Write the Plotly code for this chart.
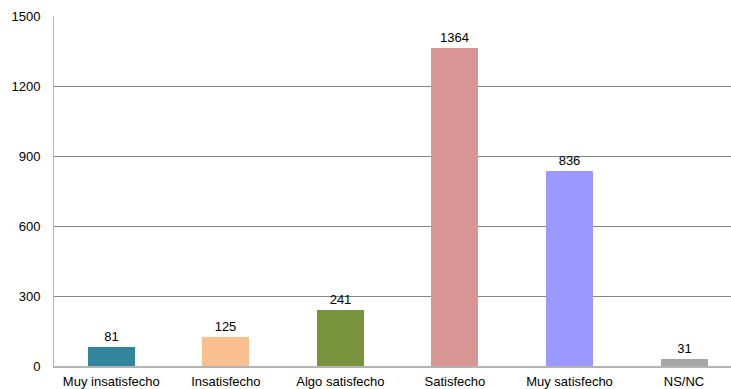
import plotly.graph_objects as go

categories = ["Muy insatisfecho", "Insatisfecho", "Algo satisfecho", "Satisfecho", "Muy satisfecho", "NS/NC"]
values = [81, 125, 241, 1364, 836, 31]
colors = ["#31859C", "#FAC090", "#77933C", "#D99694", "#9999FF", "#A6A6A6"]
y_ticks = [0, 300, 600, 900, 1200, 1500]

fig = go.Figure(go.Bar(
    x=categories, y=values, marker=dict(color=colors, line=dict(width=0)),
    width=0.41, text=[str(v) for v in values], textposition="outside",
    textfont=dict(family="Liberation Sans, Arial", size=13, color="#000000"),
    cliponaxis=False,
))
fig.update_layout(
    width=731, height=389, margin=dict(l=54, r=0, t=16, b=23),
    plot_bgcolor="white", paper_bgcolor="white", showlegend=False,
    font=dict(family="Liberation Sans, Arial", size=13, color="#000000"),
    bargap=0,
)
fig.update_xaxes(range=[-0.5, 5.41], showline=True, linecolor="#B3B3B3", linewidth=2, ticks="",
                 tickfont=dict(size=13), layer="above traces", ticklabelstandoff=2)
fig.update_yaxes(range=[0, 1500], tickvals=y_ticks, showgrid=True, gridcolor="#868686", gridwidth=1,
                 showline=True, linecolor="#B3B3B3", linewidth=1, zeroline=False, ticks="",
                 tickfont=dict(size=13), ticklabelstandoff=10)
fig.write_html("out.html")
